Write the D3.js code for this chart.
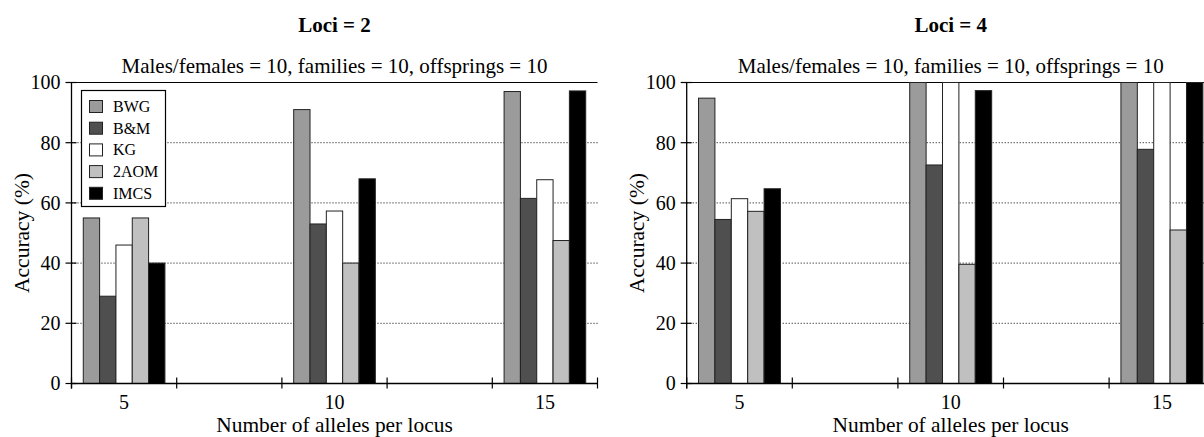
<!DOCTYPE html>
<html>
<head>
<meta charset="utf-8">
<script src="https://cdn.jsdelivr.net/npm/d3@7"></script>
<style>
  html, body { margin: 0; padding: 0; background: #fff; }
  svg { display: block; font-family: "Liberation Serif", "Times New Roman", serif; }
</style>
</head>
<body>
<svg id="chart" width="1204" height="437"></svg>
<script>
// ---- Data ----
const seriesNames = ["BWG", "B&M", "KG", "2AOM", "IMCS"];
const seriesColors = ["#9b9b9b", "#4f4f4f", "#ffffff", "#c0c0c0", "#000000"];
const xSlots = ["5", "gapA", "10", "gapB", "15"];
const xTickLabels = ["5", "", "10", "", "15"];
const alleleGroups = ["5", "10", "15"];
const yTicks = [0, 20, 40, 60, 80, 100];

// Loci = 2
const loci2BWG  = [55, 91, 97];
const loci2BM   = [29, 53, 61.5];
const loci2KG   = [46, 57.3, 67.7];
const loci2AOM  = [55, 40, 47.5];
const loci2IMCS = [40, 68, 97.2];

// Loci = 4
const loci4BWG  = [94.8, 100, 100];
const loci4BM   = [54.5, 72.6, 77.8];
const loci4KG   = [61.4, 100, 100];
const loci4AOM  = [57.2, 39.6, 51];
const loci4IMCS = [64.7, 97.3, 100];

const panels = [
  { title: "Loci = 2", subtitle: "Males/females = 10, families = 10, offsprings = 10",
    series: [loci2BWG, loci2BM, loci2KG, loci2AOM, loci2IMCS], x0: 71.5, x1: 597.5, legend: true },
  { title: "Loci = 4", subtitle: "Males/females = 10, families = 10, offsprings = 10",
    series: [loci4BWG, loci4BM, loci4KG, loci4AOM, loci4IMCS], x0: 686.7, x1: 1214.7, legend: false }
];

const svg = d3.select("#chart");
const yTop = 82.5, yBot = 383.5;
const FONT = "Liberation Serif, Times New Roman, serif";

panels.forEach(p => {
  const g = svg.append("g");
  const y = d3.scaleLinear().domain([0, 100]).range([yBot, yTop]);
  const x = d3.scaleBand().domain(xSlots).range([p.x0, p.x1]).paddingInner(0.224).paddingOuter(0.112);
  const xs = d3.scaleBand().domain(seriesNames).range([0, x.bandwidth()]).padding(0);
  const step = x.step();
  const cx = (p.x0 + p.x1) / 2;

  // gridlines (dotted) for 20..80
  g.append("g").selectAll("line").data(yTicks.filter(t => t > 0 && t < 100)).join("line")
    .attr("x1", p.x0).attr("x2", p.x1)
    .attr("y1", d => y(d)).attr("y2", d => y(d))
    .attr("stroke", "#000").attr("stroke-width", 1)
    .attr("stroke-dasharray", "1,2");

  // top solid line at 100
  g.append("line").attr("x1", p.x0).attr("x2", p.x1)
    .attr("y1", y(100)).attr("y2", y(100))
    .attr("stroke", "#000").attr("stroke-width", 1.2);

  // bars
  alleleGroups.forEach((grp, gi) => {
    p.series.forEach((vals, si) => {
      const v = vals[gi];
      g.append("rect")
        .attr("x", x(grp) + xs(seriesNames[si]))
        .attr("y", y(v))
        .attr("width", xs.bandwidth())
        .attr("height", y(0) - y(v))
        .attr("fill", seriesColors[si])
        .attr("stroke", "#222").attr("stroke-width", 1);
    });
  });

  // y axis
  const yAxis = d3.axisLeft(y).tickValues(yTicks).tickSize(0).tickPadding(11);
  const ya = g.append("g").attr("transform", `translate(${p.x0},0)`).call(yAxis);
  ya.attr("font-family", FONT);
  ya.select(".domain").remove();
  ya.selectAll("text").attr("font-size", 20).attr("fill", "#000");
  g.append("g").selectAll("line").data(yTicks).join("line")
    .attr("x1", p.x0 - 6).attr("x2", p.x0 + 5)
    .attr("y1", d => y(d)).attr("y2", d => y(d))
    .attr("stroke", "#000").attr("stroke-width", 1.2);
  g.append("line").attr("x1", p.x0).attr("x2", p.x0)
    .attr("y1", y(100)).attr("y2", y(0) + 5)
    .attr("stroke", "#000").attr("stroke-width", 1.3);

  // x axis baseline
  g.append("line").attr("x1", p.x0).attr("x2", p.x1)
    .attr("y1", y(0)).attr("y2", y(0))
    .attr("stroke", "#000").attr("stroke-width", 1.3);
  // boundary ticks
  g.append("g").selectAll("line").data(d3.range(xSlots.length + 1)).join("line")
    .attr("x1", i => p.x0 + i * step).attr("x2", i => p.x0 + i * step)
    .attr("y1", y(0) - 6).attr("y2", y(0) + 5)
    .attr("stroke", "#000").attr("stroke-width", 1.2);
  // x tick labels
  const xAxis = d3.axisBottom(x).tickSize(0).tickPadding(0).tickFormat((d, i) => xTickLabels[i]);
  const xa = g.append("g").attr("transform", `translate(0,${y(0)})`).call(xAxis);
  xa.attr("font-family", FONT);
  xa.select(".domain").remove();
  xa.selectAll("text").attr("font-size", 20).attr("fill", "#000")
    .attr("dy", null).attr("y", 25);

  // titles
  g.append("text").attr("x", cx).attr("y", 31.5).attr("text-anchor", "middle")
    .attr("font-size", 21).attr("font-weight", "bold").text(p.title);
  g.append("text").attr("x", cx).attr("y", 73).attr("text-anchor", "middle")
    .attr("font-size", 21).text(p.subtitle);
  g.append("text").attr("x", cx).attr("y", 432).attr("text-anchor", "middle")
    .attr("font-size", 21.4).text("Number of alleles per locus");
  g.append("text").attr("transform", `translate(${p.x0 - 43},${(yTop + yBot) / 2}) rotate(-90)`)
    .attr("text-anchor", "middle").attr("font-size", 21.5).text("Accuracy (%)");

  // legend
  if (p.legend) {
    const lg = g.append("g");
    lg.append("rect").attr("x", 81.5).attr("y", 90.5).attr("width", 84).attr("height", 116)
      .attr("fill", "#fff").attr("stroke", "#000").attr("stroke-width", 1.2);
    const rows = lg.selectAll("g.row").data(seriesNames).join("g")
      .attr("transform", (d, i) => `translate(0,${100 + i * 21.7})`);
    rows.append("rect").attr("x", 89.5).attr("y", 0.5).attr("width", 13).attr("height", 12)
      .attr("fill", (d, i) => seriesColors[i]).attr("stroke", "#222").attr("stroke-width", 1);
    rows.append("text").attr("x", 113).attr("y", 12).attr("font-size", 16).text(d => d);
  }
});
</script>
</body>
</html>
